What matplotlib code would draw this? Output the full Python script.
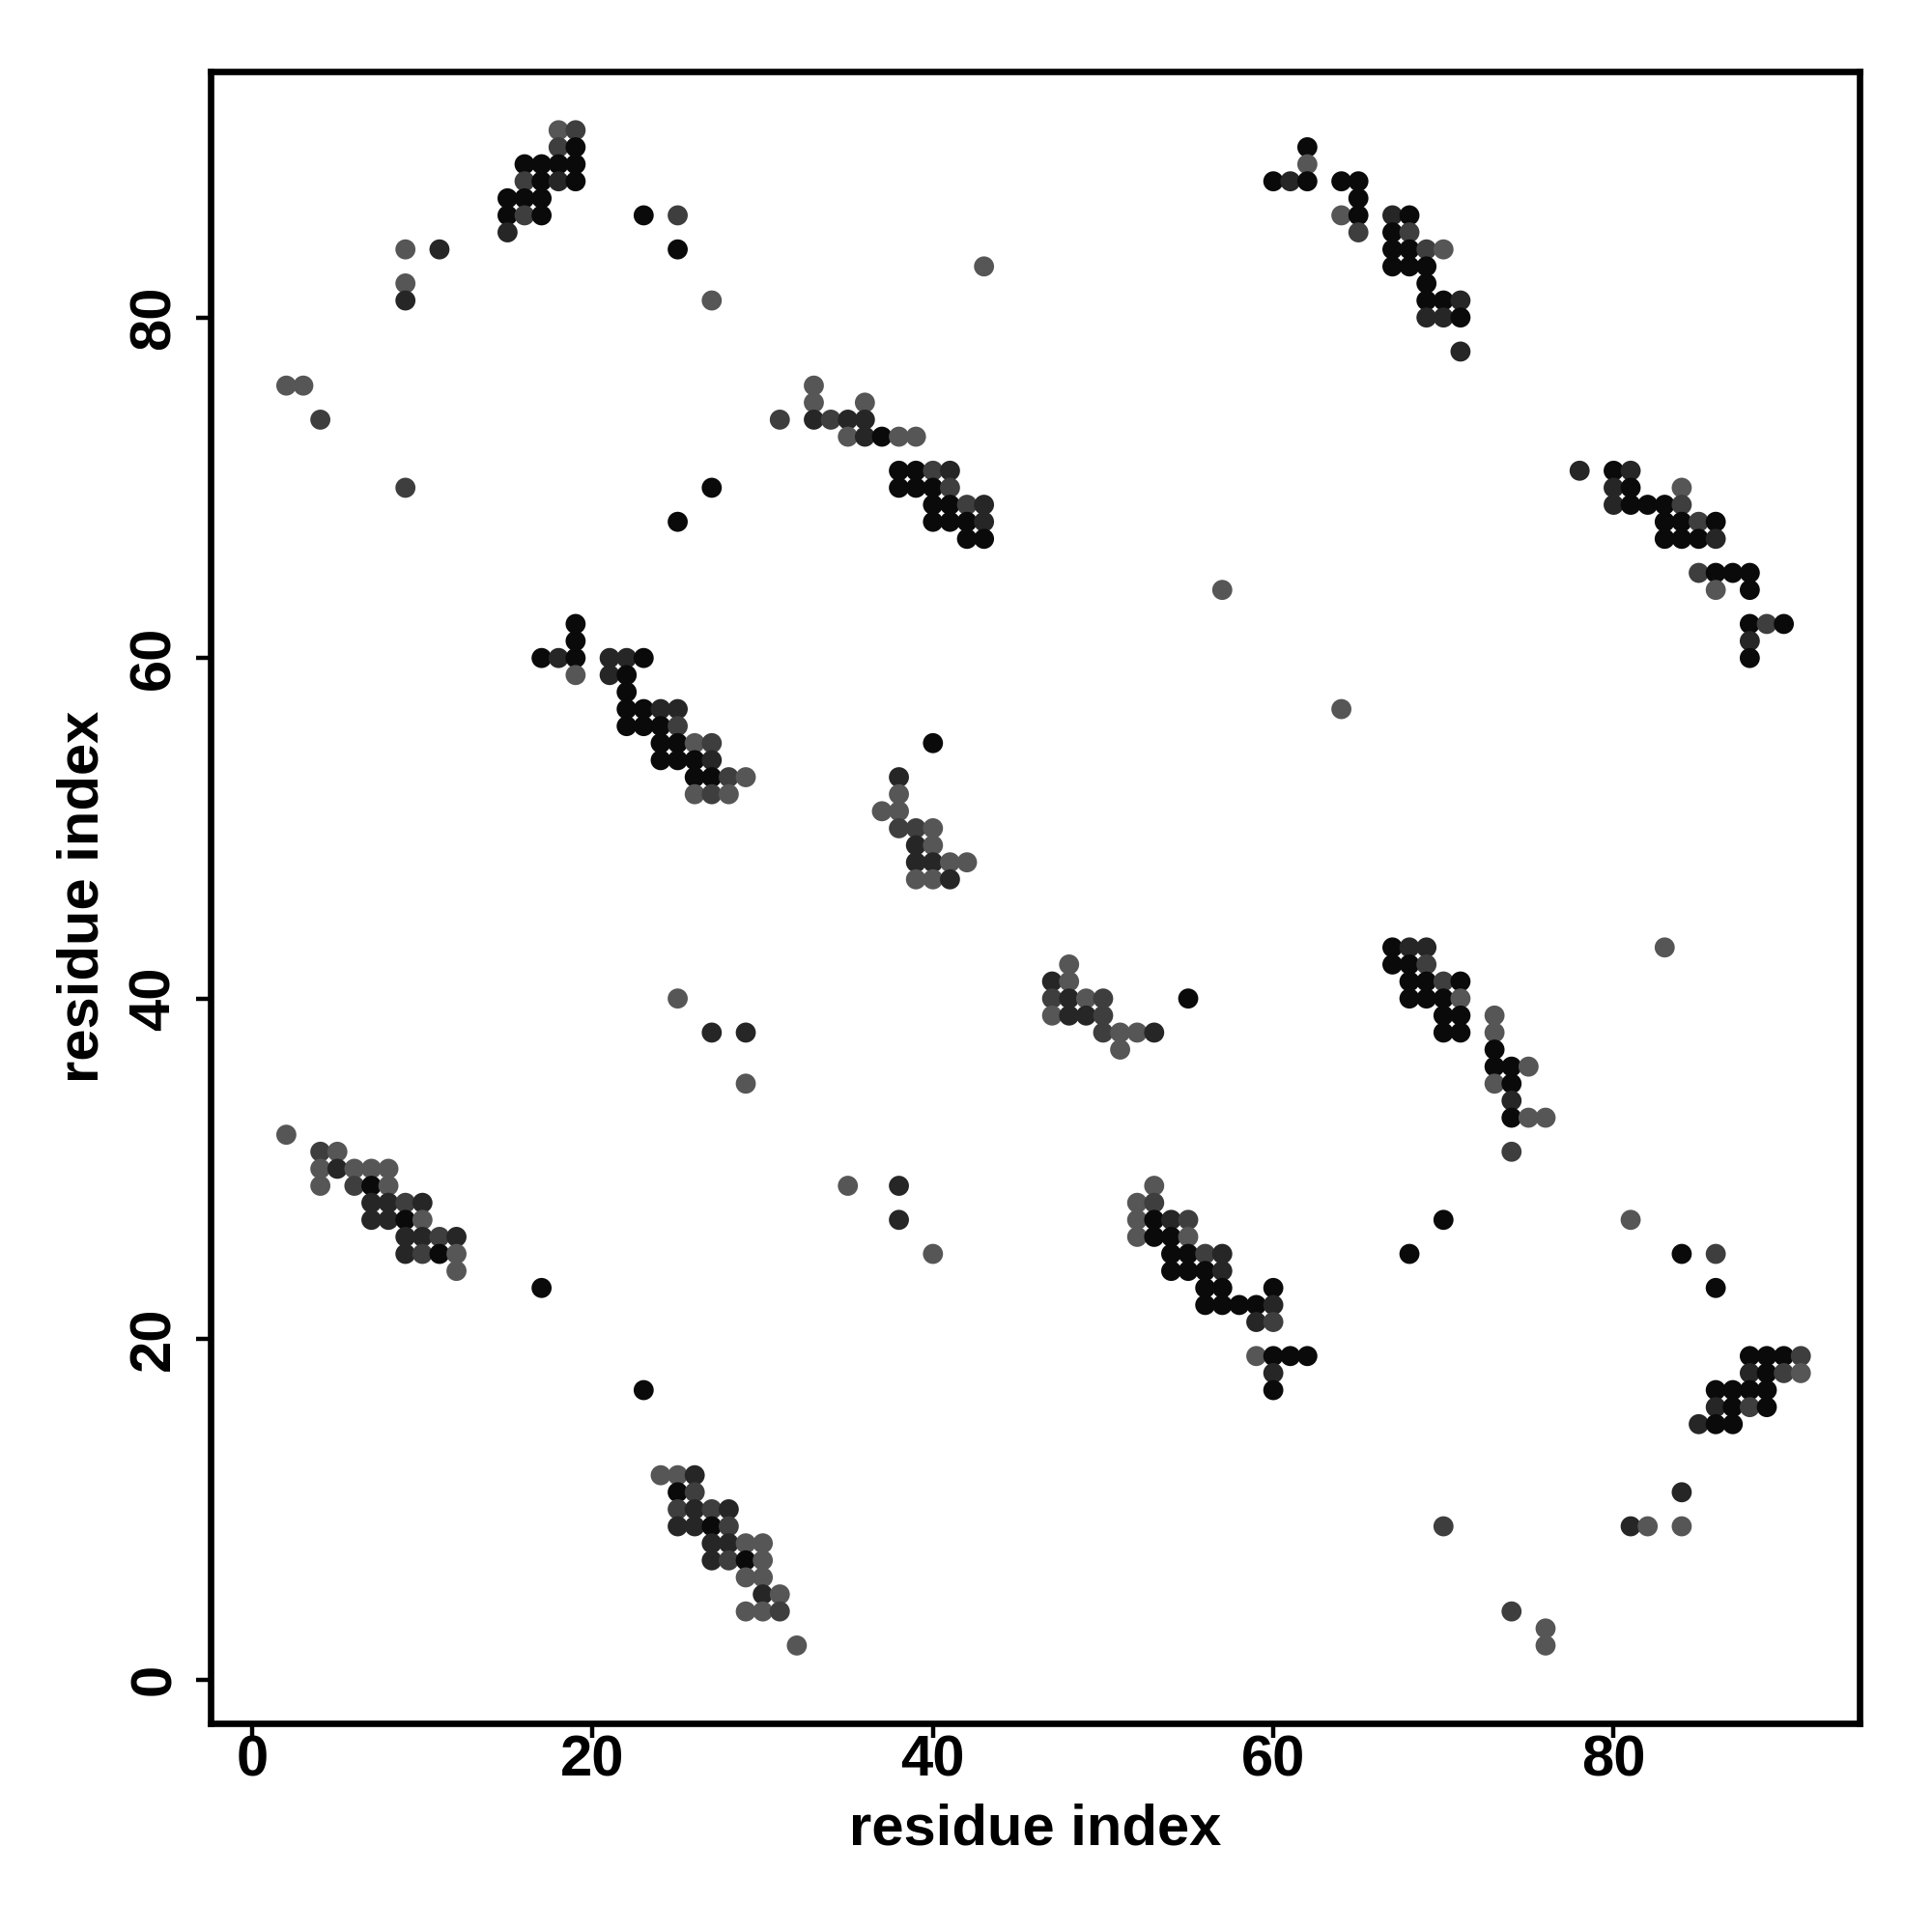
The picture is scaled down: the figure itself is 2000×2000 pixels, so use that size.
import matplotlib
matplotlib.use("Agg")
import matplotlib.pyplot as plt
import numpy as np

# contact points: (i, j, shade level 1=black .. 4=gray)
top_left = [(18,91,4),(19,91,3),(18,90,3),(19,90,1),
            (16,89,1),(17,89,1),(18,89,1),(19,89,1),
            (16,88,3),(17,88,1),(18,88,2),(19,88,1),
            (15,87,1),(16,87,1),(17,87,1),
            (15,86,1),(16,86,3),(17,86,1),(15,85,2),
            (23,86,1),(25,86,3),(9,84,4),(11,84,2),(25,84,1),
            (9,82,4),(9,81,2),(27,81,4),(2,76,4),(3,76,4),(4,74,3),
            (9,70,3),(27,70,1),(25,68,1),(43,83,4)]
top_right = [(62,90,1),(62,89,4),(60,88,1),(61,88,2),(62,88,1),
             (64,88,1),(65,88,1),(65,87,1),
             (64,86,4),(65,86,1),(67,86,2),(68,86,1),
             (65,85,3),(67,85,1),(68,85,3),
             (67,84,1),(68,84,1),(69,84,3),(70,84,4),
             (67,83,1),(68,83,1),(69,83,1),(69,82,1),
             (69,81,1),(70,81,1),(71,81,2),
             (69,80,2),(70,80,2),(71,80,1),(71,78,2)]
mid_top = [(33,76,4),(33,75,4),(36,75,4),
           (31,74,3),(33,74,2),(34,74,3),(35,74,2),(36,74,2),
           (35,73,4),(36,73,2),(37,73,1),(38,73,4),(39,73,4),
           (38,71,1),(39,71,1),(40,71,3),(41,71,2),
           (38,70,1),(39,70,1),(40,70,1),(41,70,3),
           (40,69,1),(41,69,1),(42,69,3),(43,69,2),
           (40,68,1),(41,68,1),(42,68,1),(43,68,2),
           (42,67,1),(43,67,1)]
right_upper = [(78,71,2),(80,71,1),(81,71,2),
               (80,70,2),(81,70,1),(84,70,4),
               (80,69,2),(81,69,1),(82,69,1),(83,69,1),(84,69,3),
               (83,68,1),(84,68,1),(85,68,3),(86,68,1),
               (83,67,1),(84,67,1),(85,67,1),(86,67,2),
               (85,65,3),(86,65,1),(87,65,1),(88,65,1),
               (86,64,4),(88,64,1),
               (88,62,1),(89,62,3),(90,62,1),(88,61,2),(88,60,1),
               (57,64,4),(64,57,4)]
left_mid = [(19,62,1),(19,61,1),
            (17,60,1),(18,60,2),(19,60,1),(21,60,2),(22,60,2),(23,60,1),
            (19,59,4),(21,59,2),(22,59,1),(22,58,1),
            (22,57,1),(23,57,1),(24,57,2),(25,57,2),
            (22,56,1),(23,56,1),(24,56,1),(25,56,3),
            (24,55,1),(25,55,1),(26,55,4),(27,55,3),
            (24,54,1),(25,54,1),(26,54,1),(27,54,2),
            (26,53,1),(27,53,1),(28,53,3),(29,53,4),
            (26,52,4),(27,52,3),(28,52,4)]
center = [(40,55,1),(38,53,2),(38,52,4),(37,51,4),(38,51,4),
          (38,50,3),(39,50,3),(40,50,4),(39,49,2),(40,49,4),
          (39,48,2),(40,48,2),(41,48,4),(42,48,4),
          (39,47,4),(40,47,4),(41,47,2),
          (48,42,4),(47,41,2),(48,41,4),
          (47,40,3),(48,40,2),(49,40,4),(50,40,3),(55,40,1),
          (47,39,4),(48,39,2),(49,39,2),(50,39,3),
          (50,38,3),(51,38,4),(52,38,4),(53,38,2),(51,37,4),
          (25,40,4),(27,38,2),(29,38,2),(29,35,4)]
right_mid = [(67,43,1),(68,43,2),(69,43,2),(83,43,4),
             (67,42,1),(68,42,1),(69,42,3),
             (68,41,1),(69,41,1),(70,41,3),(71,41,1),
             (68,40,1),(69,40,1),(70,40,1),(71,40,4),
             (70,39,1),(71,39,1),(73,39,4),
             (70,38,1),(71,38,1),(73,38,4),(73,37,1),
             (73,36,1),(74,36,1),(75,36,4),(73,35,4),(74,35,1),
             (74,34,2),(74,33,1),(75,33,4),(76,33,4),(74,31,3)]
lower_left = [(2,32,4),(4,31,3),(5,31,4),
              (4,30,4),(5,30,2),(6,30,4),(7,30,4),(8,30,4),
              (4,29,4),(6,29,3),(7,29,1),(8,29,4),
              (7,28,2),(8,28,2),(9,28,3),(10,28,2),
              (7,27,2),(8,27,2),(9,27,1),(10,27,4),
              (9,26,2),(10,26,2),(11,26,3),(12,26,2),
              (9,25,2),(10,25,3),(11,25,1),(12,25,4),
              (12,24,4),(17,23,1),
              (35,29,4),(38,29,2),(38,27,2),(40,25,4)]
lower_mid = [(53,29,4),(52,28,4),(53,28,3),
             (52,27,4),(53,27,1),(54,27,2),(55,27,3),
             (52,26,4),(53,26,1),(54,26,1),(55,26,4),
             (54,25,1),(55,25,1),(56,25,3),(57,25,2),
             (54,24,1),(55,24,1),(56,24,1),(57,24,2),
             (56,23,1),(57,23,1),(60,23,1),
             (56,22,1),(57,22,1),(58,22,1),(59,22,1),(60,22,2),
             (59,21,2),(60,21,3),
             (59,19,4),(60,19,1),(61,19,1),(62,19,1),
             (60,18,2),(60,17,1)]
lower_right = [(70,27,1),(81,27,4),(68,25,1),(84,25,1),(86,25,3),(86,23,1),
               (88,19,1),(89,19,1),(90,19,1),(91,19,3),
               (88,18,2),(89,18,1),(90,18,3),(91,18,4),
               (86,17,1),(87,17,1),(88,17,1),(89,17,1),
               (86,16,2),(87,16,1),(88,16,3),(89,16,1),
               (85,15,2),(86,15,1),(87,15,1),
               (84,11,2),(70,9,3),(81,9,2),(82,9,4),(84,9,4),
               (74,4,3),(76,3,4),(76,2,4)]
bottom_diag = [(23,17,1),(24,12,4),(25,12,4),(26,12,2),
               (25,11,1),(26,11,3),
               (25,10,3),(26,10,2),(27,10,3),(28,10,2),
               (25,9,2),(26,9,2),(27,9,1),(28,9,3),
               (27,8,2),(28,8,2),(29,8,4),(30,8,4),
               (27,7,2),(28,7,3),(29,7,1),(30,7,4),
               (29,6,4),(30,6,4),(30,5,2),(31,5,4),
               (29,4,4),(30,4,4),(31,4,3),(32,2,4)]

tick_values = [0, 20, 40, 60, 80]
shade_colors = {1: "#0a0a0a", 2: "#262626", 3: "#3e3e3e", 4: "#565656"}

points = (top_left + top_right + mid_top + right_upper + left_mid + center
          + right_mid + lower_left + lower_mid + lower_right + bottom_diag)
xs = np.array([p[0] for p in points])
ys = np.array([p[1] for p in points])
cols = [shade_colors[p[2]] for p in points]

fig = plt.figure(figsize=(10, 10), dpi=200)
ax = fig.add_axes([0.109, 0.1082, 0.8535, 0.8548])
ax.scatter(xs, ys, s=56, c=cols, linewidths=0, zorder=3)

ax.set_xlim(-2.45, 94.45)
ax.set_ylim(-2.55, 94.45)
ax.set_xticks(tick_values)
ax.set_yticks(tick_values)

font = "Liberation Sans"
ax.set_xticklabels([str(v) for v in tick_values], fontfamily=font,
                   fontweight="bold", fontsize=21.5)
ax.set_yticklabels([str(v) for v in tick_values], fontfamily=font,
                   fontweight="bold", fontsize=21.5, rotation=90,
                   va="center")
for sp in ax.spines.values():
    sp.set_linewidth(2.4)
    sp.set_color("black")
ax.tick_params(axis="both", direction="out", length=5.4, width=1.6,
               color="black")
ax.tick_params(axis="x", pad=-1.0)
ax.tick_params(axis="y", pad=5.5)

ax.text(0.5, -0.0736, "residue index", transform=ax.transAxes,
        ha="center", va="baseline", fontfamily=font, fontweight="bold",
        fontsize=21.5)
ax.text(-0.068, 0.5, "residue index", transform=ax.transAxes,
        rotation=90, rotation_mode="anchor", ha="center", va="baseline",
        fontfamily=font, fontweight="bold", fontsize=21.5)

fig.savefig("out.png", dpi=200, facecolor="white")
